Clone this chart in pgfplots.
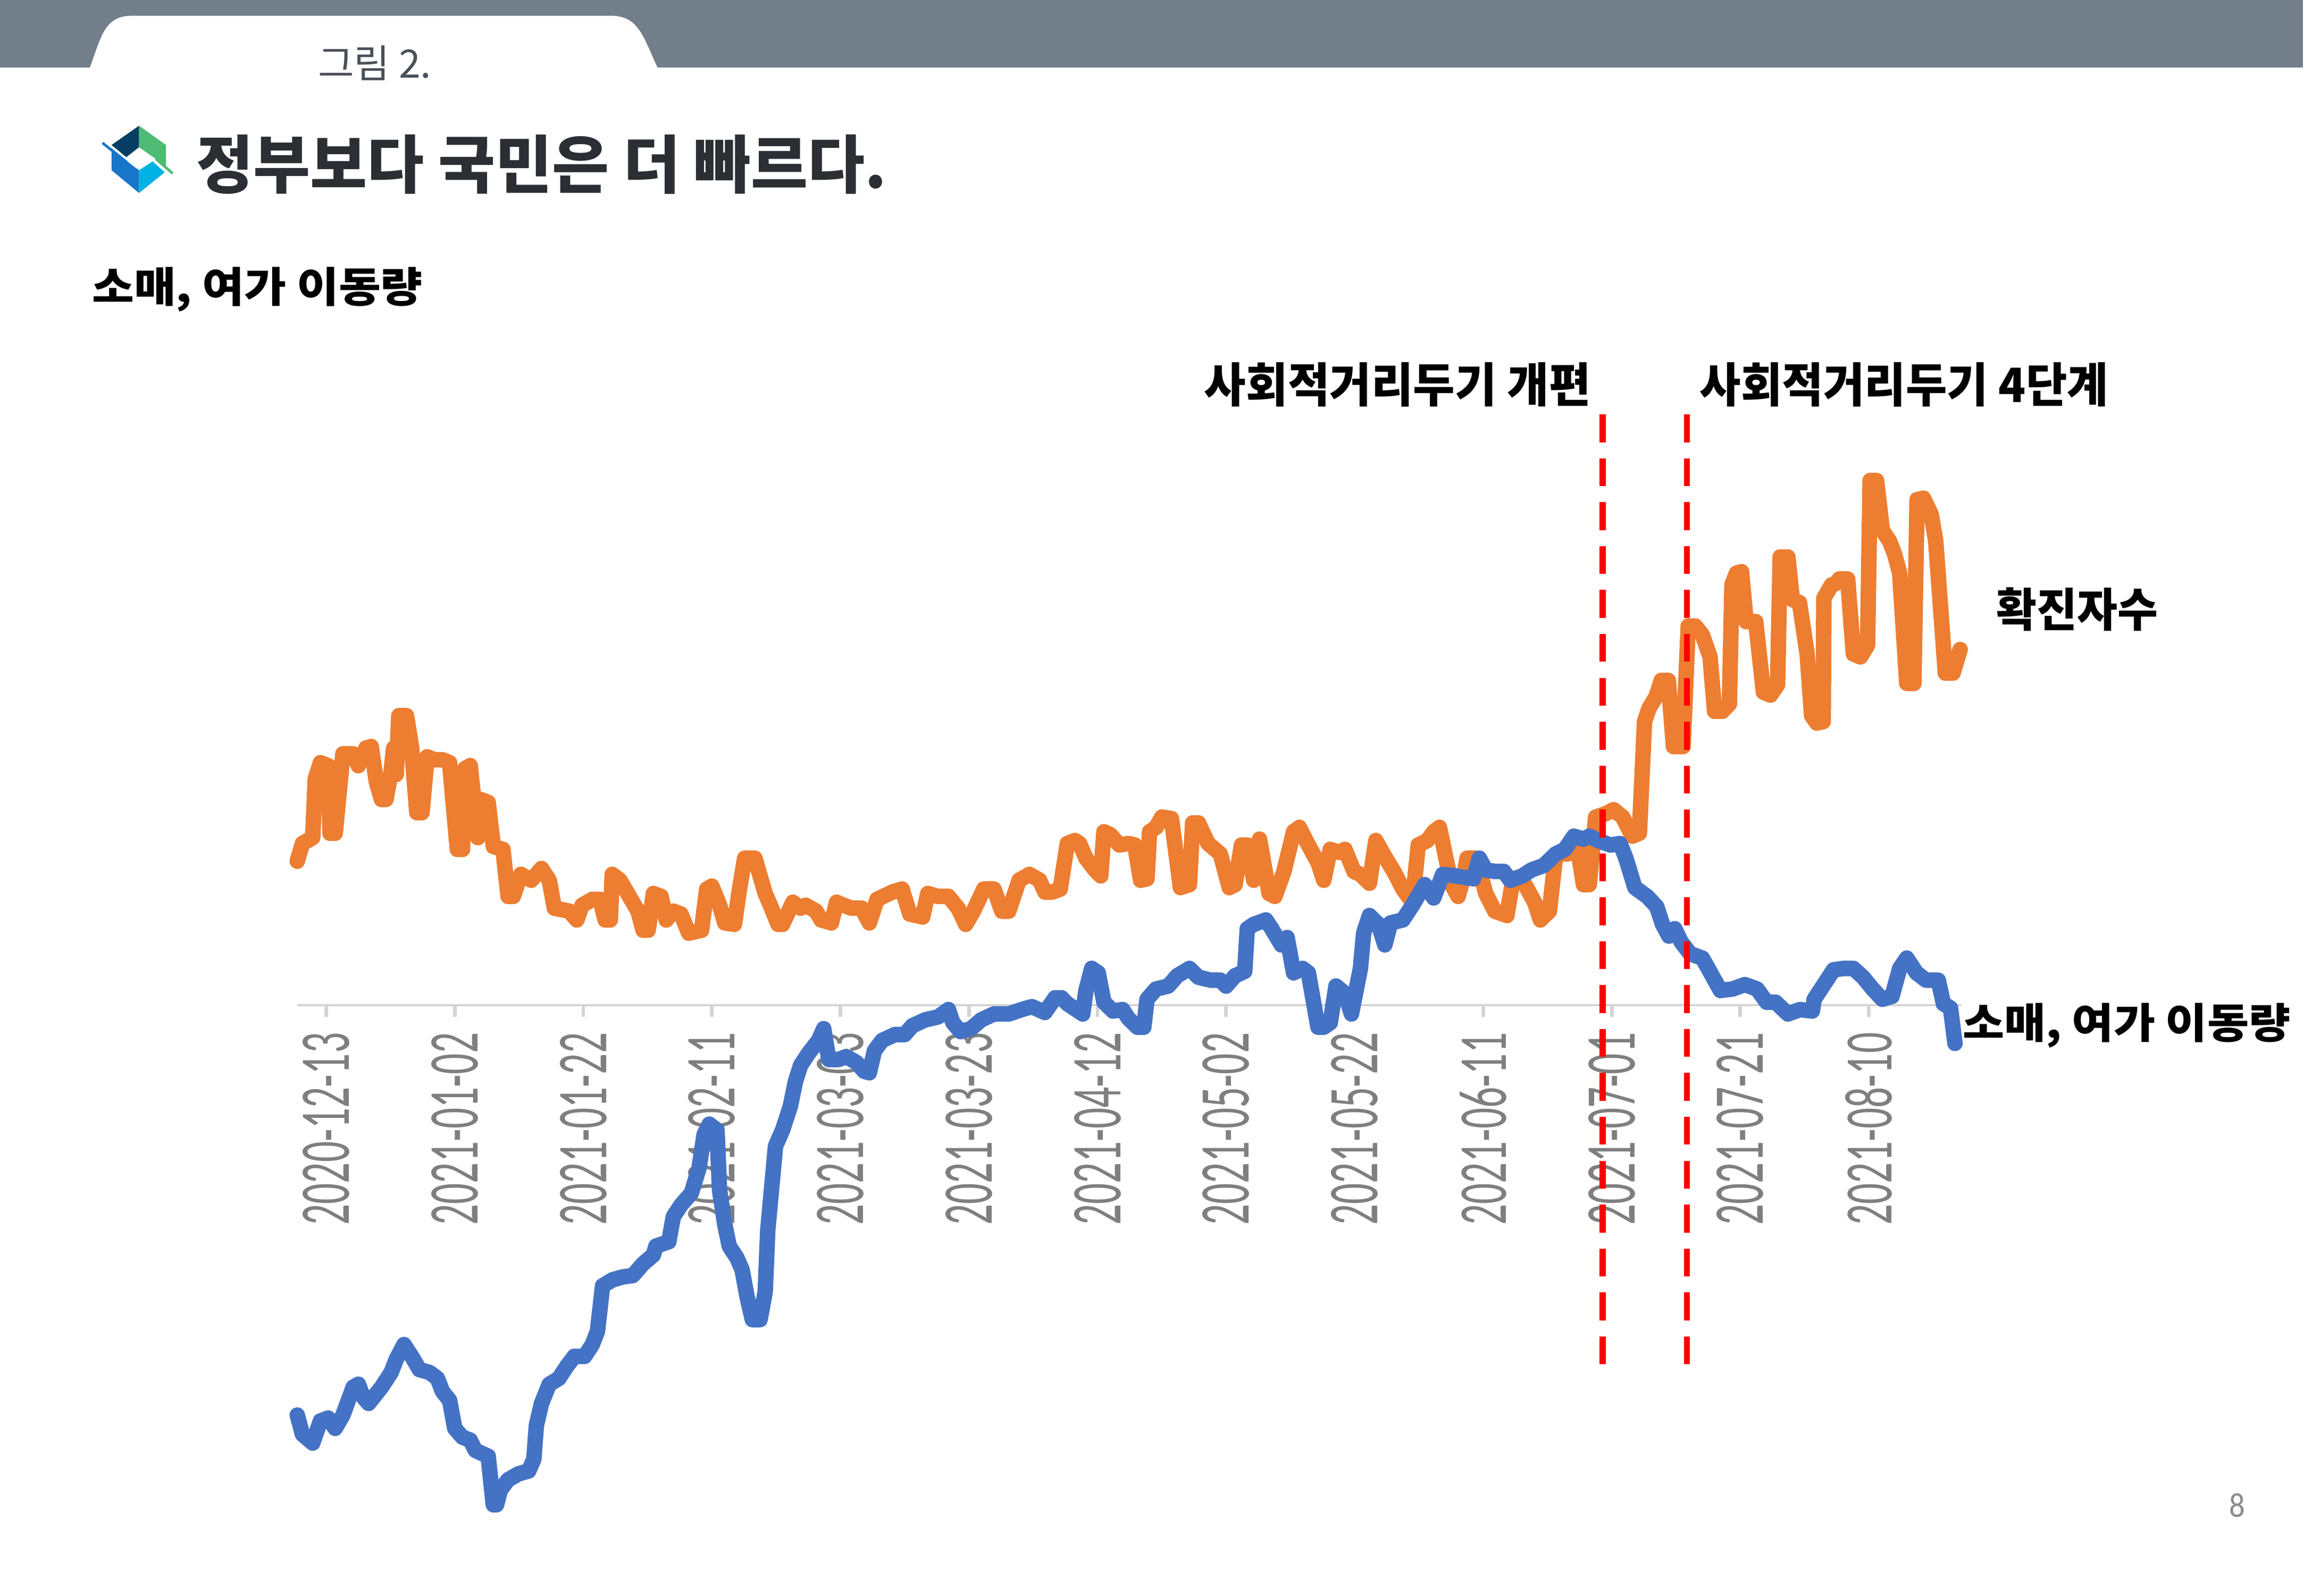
\documentclass[border=0pt]{standalone}
\usepackage{fontspec}
\usepackage{graphicx}
\usepackage{pgfplots}
\pgfplotsset{compat=1.18}
\setmainfont{Carlito}
\newfontfamily\kr{Noto Sans CJK KR}
\newfontfamily\calib{Carlito}
\definecolor{band}{HTML}{727E8A}
\definecolor{oran}{HTML}{ED7D31}
\definecolor{blu}{HTML}{4472C4}
\definecolor{ticklbl}{HTML}{7F7F7F}
\definecolor{basel}{HTML}{D4D4D4}
\definecolor{titlec}{HTML}{2B2E33}
\definecolor{figc}{HTML}{4A5059}
\definecolor{navy}{HTML}{073E63}
\definecolor{lgreen}{HTML}{4DBB74}
\definecolor{lblue}{HTML}{1776C9}
\definecolor{lcyan}{HTML}{00B2E3}
\definecolor{pagec}{HTML}{8C8C8C}
\newcommand\tl[1]{\resizebox{1.31cm}{0.315cm}{\calib #1}}
\begin{document}
\begin{tikzpicture}
\path (0,0) rectangle (15.682,-10.858);
\begin{scope}[x=0.01cm,y=-0.01cm]
 \fill[band] (0,0) rectangle (1568.2,46);
 \fill[white] (61,46.5) .. controls (69,25) and (71,10.7) .. (90,10.7) -- (416,10.7) .. controls (435,10.7) and (438,25) .. (448,46.5) -- cycle;
 \node[anchor=base west, inner sep=0, text=figc] at (216,53) {\resizebox{0.77cm}{0.22cm}{\kr 그림 2.}};
 % logo
 \fill[navy] (94.7,85.6) -- (76.0,98.7) -- (86.0,107.0) -- (94.7,100.2) -- cycle;
 \fill[lgreen] (94.7,85.6) -- (113.0,98.7) -- (113.0,113.0) -- (94.7,100.2) -- cycle;
 \fill[lblue] (76.0,100.9) -- (90.6,113.0) -- (94.7,115.9) -- (94.7,131.4) -- (76.0,115.9) -- cycle;
 \fill[lcyan] (94.7,131.4) -- (94.7,115.9) -- (103.9,109.9) -- (112.2,117.3) -- cycle;
 \draw[lblue, line width=0.5pt] (69.8,97.3) -- (86.0,110.2);
 \draw[lgreen, line width=0.5pt] (106,108) -- (117.6,118.1);
 \node[anchor=base west, inner sep=0, text=titlec] at (133,128) {\resizebox{4.70cm}{0.363cm}{\kr\bfseries 정부보다 국민은 더 빠르다.}};
 \node[anchor=base west, inner sep=0] at (62,206) {\resizebox{2.25cm}{0.24cm}{\kr\bfseries 소매, 여가 이동량}};
 \node[anchor=base west, inner sep=0] at (819.5,274) {\resizebox{2.63cm}{0.272cm}{\kr\bfseries 사회적거리두기 개편}};
 \node[anchor=base west, inner sep=0] at (1157,274) {\resizebox{2.78cm}{0.272cm}{\kr\bfseries 사회적거리두기 4단계}};
 \node[anchor=base west, inner sep=0] at (1359,426.7) {\resizebox{1.10cm}{0.267cm}{\kr\bfseries 확진자수}};
 \node[anchor=base west, inner sep=0] at (1336,707) {\resizebox{2.23cm}{0.24cm}{\kr\bfseries 소매, 여가 이동량}};
 \node[anchor=base west, inner sep=0, text=pagec] at (1517.6,1033) {\resizebox{0.108cm}{0.16cm}{\calib 8}};
\end{scope}
\begin{axis}[
  at={(2.0233cm,-10.44cm)}, anchor=south west,
  scale only axis, width=11.3225cm, height=7.40cm,
  xmin=-4.5, xmax=254.3, ymin=-360, ymax=380,
  clip=false,
  axis x line=middle, axis y line=none,
  axis line style={-, draw=basel, line width=0.5pt},
  hide obscured x ticks=false,
  xtick={0,20,...,240},
  xticklabels={\tl{2020-12-13},\tl{2021-01-02},\tl{2021-01-22},\tl{2021-02-11},\tl{2021-03-03},\tl{2021-03-23},\tl{2021-04-12},\tl{2021-05-02},\tl{2021-05-22},\tl{2021-06-11},\tl{2021-07-01},\tl{2021-07-21},\tl{2021-08-10}},
  xtick align=outside, major tick length=0.08cm,
  tick style={draw=basel, line width=0.7pt},
  xticklabel style={rotate=90, anchor=east, inner sep=0pt, text=ticklbl},
  xticklabel shift=0.1cm,
  ytick=\empty,
  set layers,
]
\addplot[oran, line width=3.0pt, line join=round, line cap=round] coordinates {
(-4.5,98) (-3.7,110) (-2.1,114) (-1.7,154) (-0.9,165) (0.3,163) (0.6,117) (1.4,117) (2.6,171) (4.2,171) (5.0,163) (6.2,175) (7.0,176) (7.8,152) (8.6,140) (9.3,140) (10.1,159) (10.5,175) (10.9,157) (11.3,197) (12.5,197) (13.3,175) (14.1,131) (14.9,131) (15.7,169) (16.9,167) (18.1,167) (19.2,165) (20.4,106) (21.2,106) (21.6,161) (22.4,163) (23.6,114) (24.0,140) (25.2,138) (26.0,108) (27.5,106) (28.3,74) (29.1,74) (30.3,89) (31.9,85) (33.5,93) (34.7,85) (35.5,66) (37.8,64) (39.0,58) (39.8,68) (41.4,72) (42.6,72) (43.4,58) (44.2,58) (44.5,89) (45.7,85) (46.9,76) (48.5,64) (49.3,51) (50.1,51) (50.9,76) (52.1,74) (52.9,58) (54.0,64) (55.2,62) (56.4,49) (58.4,51) (59.2,79) (60.0,81) (61.2,68) (62.0,56) (63.5,55) (64.3,79) (65.1,100) (66.7,100) (68.3,76) (69.1,68) (70.3,55) (71.0,55) (72.6,70) (73.8,66) (74.6,68) (76.2,64) (77.0,58) (78.6,56) (79.4,70) (80.5,68) (81.7,66) (83.3,66) (84.5,56) (85.7,72) (88.1,77) (89.6,79) (90.8,62) (92.8,60) (93.6,76) (95.2,74) (96.8,74) (98.3,66) (99.5,55) (100.7,64) (102.3,79) (103.9,79) (105.1,64) (106.2,64) (107.8,85) (109.4,89) (111.0,85) (111.8,77) (113.0,77) (114.2,79) (115.3,110) (116.5,112)
(117.2,110) (118.2,100) (119.6,92) (120.5,88) (121.0,118) (122.0,116) (123.4,109) (124.8,110) (125.8,109) (126.7,85) (127.7,86) (128.1,118) (129.1,121) (130.0,128) (131.5,127) (132.9,80) (134.3,82) (134.8,124) (135.7,124) (137.2,110) (139.1,103) (140.5,80) (141.4,82) (142.4,109) (143.3,109) (144.3,85) (145.2,113) (146.7,76) (147.6,74) (149.0,91) (150.5,118) (151.4,121) (152.8,109) (154.3,97) (155.2,85) (156.2,106) (157.6,104) (158.5,106) (159.9,91) (160.9,89) (162.3,83) (163.3,112) (164.7,101) (166.1,91) (167.5,79) (169.0,70) (169.9,109) (171.3,112) (172.3,118) (173.2,121) (174.2,100) (175.1,82) (176.1,74) (177.0,88) (177.5,100) (178.9,100) (180.4,76) (181.8,64) (183.7,61) (184.6,85) (186.5,82) (188.0,70) (188.9,58) (190.3,64) (191.3,103) (193.2,103) (194.6,110) (195.6,82) (196.5,82) (197.5,128) (198.9,130) (200.3,133) (201.7,128) (203.2,115) (204.3,117)
(205.1,193) (205.8,202) (206.9,210) (207.7,221) (208.8,221) (209.6,176) (211.1,176) (211.9,258) (213.0,258) (214.1,252) (215.3,237) (216.0,200) (217.2,200) (218.3,205) (218.7,286) (219.4,294) (220.2,295) (220.9,261) (222.4,261) (223.6,213) (224.7,211) (225.8,218) (226.2,305) (227.4,305) (228.1,276) (229.2,274) (230.4,239) (231.1,197) (231.9,192) (232.9,193) (233.0,277) (234.2,286) (234.9,287) (235.4,290) (236.7,290) (237.6,239) (238.7,237) (239.8,245) (240.2,357) (241.2,357) (242.1,323) (243.2,316) (244.0,307) (244.8,294) (245.9,219) (247.0,219) (247.5,344) (248.5,345) (249.7,334) (250.4,316) (251.9,226) (253.1,226) (254.2,242)
};
\addplot[blu, line width=3.0pt, line join=round, line cap=round] coordinates {
(-4.5,-279) (-3.7,-292) (-2.1,-298) (-0.9,-283) (0.3,-281) (1.4,-288) (2.6,-279) (4.2,-260) (5.0,-258) (5.8,-267) (6.6,-271) (8.6,-260) (10.1,-250) (10.9,-241) (12.1,-231) (13.3,-239) (14.5,-248) (16.1,-250) (17.3,-254) (18.1,-263) (19.2,-269) (20.0,-288) (21.2,-294) (22.4,-296) (23.2,-303) (25.2,-307) (26.0,-340) (26.5,-340) (27.1,-330) (28.3,-323) (29.9,-319) (31.5,-317) (32.3,-309) (32.7,-286) (33.5,-271) (34.7,-258) (36.2,-254) (37.4,-246) (38.6,-239) (40.2,-239) (41.4,-231) (42.2,-222) (43.0,-191) (44.5,-187) (46.1,-185) (47.7,-184) (49.3,-176) (50.9,-170) (51.3,-164) (53.3,-161) (54.0,-144) (55.2,-136) (56.8,-128) (58.0,-111) (58.8,-88) (59.6,-81) (60.8,-85) (61.2,-126) (62.0,-149) (62.7,-164) (63.9,-172) (64.7,-180) (65.5,-199) (66.3,-214) (67.5,-214) (68.3,-195) (68.7,-153) (69.9,-96) (71.0,-85) (72.2,-69) (73.0,-52) (73.8,-41) (75.0,-33) (76.6,-24) (77.4,-16) (78.2,-37) (79.7,-37) (80.9,-35) (82.5,-39) (83.7,-45) (84.5,-46) (85.3,-31) (86.5,-24) (88.5,-20) (90.0,-20) (91.2,-14) (93.2,-10) (95.2,-8) (96.8,-3) (97.5,-12) (98.7,-18) (100.3,-16) (101.9,-10) (103.9,-6) (106.2,-6) (108.2,-3) (109.8,-1) (111.8,-5) (113.4,5)
(114.4,5) (115.3,1) (117.7,-6) (118.2,10) (119.1,25) (120.1,22) (121.0,2) (122.4,-4) (123.9,-3) (124.8,-9) (126.2,-15) (127.2,-15) (127.7,4) (129.1,11) (131.0,13) (132.4,20) (134.3,25) (135.7,19) (137.6,17) (139.1,17) (140.0,13) (141.4,20) (142.9,23) (143.3,52) (144.3,55) (146.2,58) (147.1,52) (148.6,41) (149.5,46) (150.5,22) (151.9,25) (152.8,22) (154.3,-15) (155.2,-15) (156.2,-12) (157.1,13) (158.5,8) (159.5,-6) (160.9,25) (161.4,49) (162.3,61) (163.7,55) (164.7,41) (165.6,56) (167.5,58) (169.0,68) (170.9,82) (172.3,73) (173.7,89) (175.6,88) (178.5,86) (179.4,100) (180.4,92) (181.8,91) (183.2,91) (184.2,85) (186.1,88) (187.5,92) (189.4,95) (191.3,103) (192.7,106) (194.1,115) (195.6,113) (196.5,115) (197.9,112) (199.8,109) (201.3,110) (202.2,100) (203.6,80) (205.5,74) (207.0,67) (207.9,55) (208.9,47) (209.8,52) (210.8,43) (212.2,35) (214.1,32) (215.0,25) (216.9,10) (218.8,11) (220.7,14) (222.6,11) (224.1,2) (225.5,2) (227.4,-6) (229.3,-3) (231.2,-4)
(231.5,4) (233.0,14) (234.5,24) (236.1,25) (237.6,25) (239.1,19) (240.6,11) (242.1,4) (243.6,6) (244.8,25) (245.9,32) (247.4,22) (248.9,17) (250.8,17) (251.6,1) (252.7,-2) (253.4,-26)
};
\addplot[red, line width=1.2pt, dash pattern=on 5.4pt off 3.1pt] coordinates {(198.6,402) (198.6,-246)};
\addplot[red, line width=1.2pt, dash pattern=on 5.4pt off 3.1pt] coordinates {(211.7,402) (211.7,-246)};
\end{axis}
\end{tikzpicture}
\end{document}
